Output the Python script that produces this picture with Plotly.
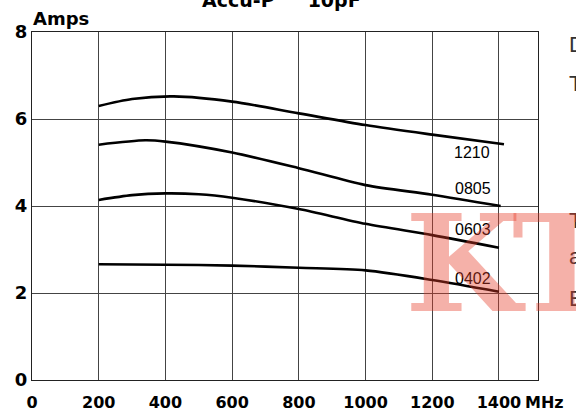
import plotly.graph_objects as go

# ---- data ----
freq_1210 = [200, 300, 425, 600, 800, 1000, 1200, 1415]
amps_1210 = [6.30, 6.46, 6.52, 6.40, 6.13, 5.86, 5.64, 5.42]

freq_0805 = [200, 340, 400, 600, 800, 1000, 1200, 1405]
amps_0805 = [5.41, 5.51, 5.48, 5.23, 4.87, 4.48, 4.26, 4.00]

freq_0603 = [200, 300, 400, 500, 600, 800, 1000, 1200, 1400]
amps_0603 = [4.14, 4.25, 4.29, 4.27, 4.19, 3.93, 3.59, 3.33, 3.04]

freq_0402 = [200, 400, 600, 800, 1000, 1200, 1400]
amps_0402 = [2.66, 2.65, 2.63, 2.58, 2.52, 2.30, 2.03]

series_names = ["1210", "0805", "0603", "0402"]
label_x = [1318, 1322, 1322, 1322]
label_y = [5.22, 4.41, 3.47, 2.34]

x_ticks = [0, 200, 400, 600, 800, 1000, 1200, 1400]
x_tick_text = ["0", "200", "400", "600", "800", "1000", "1200", "1400"]
y_ticks = [0, 2, 4, 6, 8]
y_tick_text = ["0", "2", "4", "6", "8"]

W, H = 576, 411
ML, MR, MT, MB = 32, 38, 32, 31
PW, PH = W - ML - MR, H - MT - MB


def px(x):
    return (x - ML) / PW


def py(y):
    return (H - MB - y) / PH


fig = go.Figure()
for fx, fy in [(freq_1210, amps_1210), (freq_0805, amps_0805),
               (freq_0603, amps_0603), (freq_0402, amps_0402)]:
    fig.add_trace(go.Scatter(x=fx, y=fy, mode="lines",
                             line=dict(color="black", width=2.6, shape="spline", smoothing=0.8),
                             showlegend=False, hoverinfo="skip"))

annotations = []
for name, lx, ly in zip(series_names, label_x, label_y):
    annotations.append(dict(x=lx, y=ly, xref="x", yref="y", text=name, showarrow=False,
                            xanchor="center", yanchor="middle",
                            font=dict(family="Liberation Sans", size=16, color="black")))

bold = dict(family="DejaVu Sans", size=16, color="black", weight="bold")
annotations += [
    dict(x=px(523), y=py(402), xref="paper", yref="paper", text="MHz", showarrow=False,
         xanchor="left", yanchor="middle", font=bold),
    dict(x=px(31), y=py(18), xref="paper", yref="paper", text="Amps", showarrow=False,
         xanchor="left", yanchor="middle",
         font=dict(family="DejaVu Sans", size=18, color="black", weight="bold")),
    dict(x=px(281), y=py(0), xref="paper", yref="paper", text="Accu-P\u00a0\u00a0\u00a0\u00a0 10pF",
         showarrow=False, xanchor="center", yanchor="middle",
         font=dict(family="DejaVu Sans", size=19, color="black", weight="bold")),
]
# fragments of neighbouring text at the right edge
for ch, yy in [("D", 45), ("T", 83), ("T", 220), ("a", 256), ("E", 298)]:
    annotations.append(dict(x=px(567), y=py(yy), xref="paper", yref="paper", text=ch,
                            showarrow=False, xanchor="left", yanchor="middle",
                            font=dict(family="Liberation Sans", size=22, color="#333333")))
# watermark
wm = dict(family="DejaVu Serif", size=134, color="rgba(230,60,40,0.40)", weight="bold")
annotations.append(dict(x=px(403), y=py(264), xref="paper", yref="paper", text="K",
                        showarrow=False, xanchor="left", yanchor="middle", font=wm))
annotations.append(dict(x=px(510), y=py(264), xref="paper", yref="paper", text="T",
                        showarrow=False, xanchor="left", yanchor="middle", font=wm))

fig.update_layout(
    width=W, height=H,
    margin=dict(l=ML, r=MR, t=MT, b=MB, pad=0, autoexpand=False),
    paper_bgcolor="white", plot_bgcolor="white",
    annotations=annotations,
    xaxis=dict(range=[0, 1517], tickvals=x_ticks, ticktext=x_tick_text,
               showgrid=True, gridcolor="#444444", gridwidth=1,
               showline=True, mirror=True, linecolor="#222222", linewidth=1,
               zeroline=False, ticks="", tickfont=bold, ticklabelstandoff=8,
               automargin=False),
    yaxis=dict(range=[0, 8], tickvals=y_ticks, ticktext=y_tick_text,
               showgrid=True, gridcolor="#444444", gridwidth=1,
               showline=True, mirror=True, linecolor="#222222", linewidth=1,
               zeroline=False, ticks="", ticklabelstandoff=0, automargin=False,
               tickfont=dict(family="DejaVu Sans", size=18, color="black", weight="bold")),
)

fig.write_html("out.html", config={"displayModeBar": False},
               post_script="document.body.style.margin='0';document.body.style.overflow='hidden';")
